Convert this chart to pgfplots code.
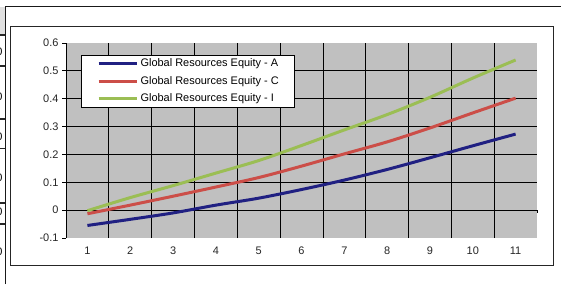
\documentclass[border=0pt]{standalone}
\usepackage{fontspec}
\setmainfont{Liberation Sans}
\usepackage{pgfplots}
\pgfplotsset{compat=1.18}
\definecolor{serA}{RGB}{32,32,130}
\definecolor{serC}{RGB}{204,78,72}
\definecolor{serI}{RGB}{155,190,84}
\definecolor{plotbg}{RGB}{192,192,192}
\definecolor{cellgray}{RGB}{224,224,224}
\begin{document}
\begin{tikzpicture}[x=1bp,y=1bp]
\useasboundingbox (0,0) rectangle (561,284);
\fill[white] (0,0) rectangle (561,284);
% surrounding table fragments
\fill[cellgray] (0,249) rectangle (5,277);
\draw[line width=1.8bp,black!90] (5.5,0) -- (5.5,277.5);
\draw[line width=1.8bp,black!90] (5.5,277.5) -- (561,277.5);
\foreach \yy in {249,218,165,135.5,81,60} {\draw[line width=1.2bp,black!85] (0,\yy) -- (5,\yy);}
\begin{scope}
\clip (0,0) rectangle (2.6,284);
\foreach \yy in {232,187,147,106,72,32} {\node[anchor=east,inner sep=0pt,font=\fontsize{11}{13}\selectfont] at (2.6,\yy) {0};}
\end{scope}
% chart frame
\draw[line width=0.9bp,black!85] (10,19) rectangle (553,258);
\begin{axis}[
  at={(66bp,46bp)}, anchor=south west,
  scale only axis, width=471bp, height=195bp,
  xmin=0.5, xmax=11.5, ymin=-0.1, ymax=0.6,
  clip=false,
  axis background/.style={fill=plotbg},
  axis line style={draw=none},
  xtick={1,2,3,4,5,6,7,8,9,10,11},
  xticklabels={1,2,3,4,5,6,7,8,9,10,11},
  minor xtick={1.5,2.5,3.5,4.5,5.5,6.5,7.5,8.5,9.5,10.5},
  ytick={-0.1,0,0.1,0.2,0.3,0.4,0.5,0.6},
  yticklabels={-0.1,0,0.1,0.2,0.3,0.4,0.5,0.6},
  minor ytick={0.1,0.2,0.3,0.4,0.5},
  xminorgrids=true, yminorgrids=true,
  xmajorgrids=false, ymajorgrids=false,
  minor grid style={draw=black, line width=0.8bp},
  minor tick length=0pt,
  xtick style={/pgfplots/major tick length=0pt},
  ytick style={draw=black, line width=0.8bp},
  major tick length=4bp,
  tick align=outside,
  ytick pos=left, xtick pos=left,
  /pgf/number format/assume math mode=true,
  tick label style={font=\fontsize{11}{13}\selectfont, text=black!85},
  xticklabel style={yshift=-1bp},
  legend style={
    at={(14.7bp,183bp)}, anchor=north west,
    draw=black, line width=0.8bp, fill=white,
    inner xsep=16bp, inner ysep=3.2bp,
    font=\fontsize{11}{13}\selectfont,
    row sep=7bp, column sep=2.5bp,
    nodes={inner sep=0pt, text height=8bp, text depth=2.5bp},
  },
  legend cell align=left,
  legend image code/.code={\draw[#1, line width=3bp] (0bp,0bp) -- (38bp,0bp);},
]
\draw[black, line width=0.9bp] (axis cs:0.5,-0.1) -- (axis cs:0.5,0.6);
\draw[black, line width=0.9bp] (axis cs:0.5,0) -- (axis cs:11.5,0);
\draw[black, line width=0.9bp] (axis cs:11.5,0) -- ([yshift=-3bp]axis cs:11.5,0);
\addplot[serA, line width=3bp, smooth, no marks] coordinates {
(1,-0.055) (2,-0.033) (3,-0.010) (4,0.018) (5,0.043) (6,0.074) (7,0.108) (8,0.146) (9,0.188) (10,0.231) (11,0.273)};
\addlegendentry{Global Resources Equity - A}
\addplot[serC, line width=3bp, smooth, no marks] coordinates {
(1,-0.013) (2,0.018) (3,0.050) (4,0.083) (5,0.117) (6,0.158) (7,0.202) (8,0.245) (9,0.295) (10,0.349) (11,0.402)};
\addlegendentry{Global Resources Equity - C}
\addplot[serI, line width=3bp, smooth, no marks] coordinates {
(1,-0.002) (2,0.045) (3,0.088) (4,0.133) (5,0.178) (6,0.232) (7,0.288) (8,0.343) (9,0.405) (10,0.474) (11,0.539)};
\addlegendentry{Global Resources Equity - I}
\end{axis}
\end{tikzpicture}
\end{document}
